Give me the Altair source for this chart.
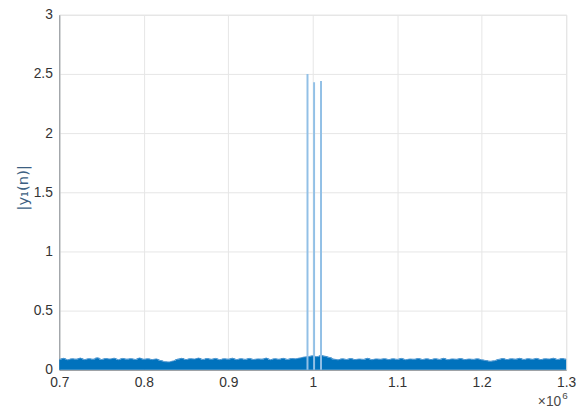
import altair as alt
import pandas as pd

# noise band upper envelope, x from 0.7e6 to 1.3e6 in steps of 5000
noise_top = [
    0.088,0.097,0.084,0.093,0.090,0.099,0.086,0.094,0.089,0.101,0.087,0.095,0.091,0.098,0.085,0.096,0.090,0.094,0.087,0.100,0.089,0.093,0.086,0.092,
    0.078,0.068,0.066,0.075,
    0.090,0.097,0.086,0.094,0.091,0.099,0.087,0.095,0.089,0.096,0.085,0.093,0.090,0.098,0.086,0.094,0.088,0.096,0.087,0.092,0.090,0.099,0.085,0.094,0.089,0.097,0.088,0.095,0.093,
    0.100,0.108,0.112,0.118,0.110,0.121,0.114,0.104,
    0.090,0.084,0.093,0.087,0.095,0.086,0.091,0.088,0.097,0.085,0.092,0.089,0.094,0.086,0.093,0.088,0.096,0.085,0.091,0.089,0.095,0.087,0.093,0.086,0.094,0.088,0.097,0.085,0.092,0.089,0.095,0.086,0.091,0.088,0.093,0.084,
    0.078,0.072,0.076,
    0.088,0.095,0.086,0.093,0.090,0.097,0.087,0.094,0.089,0.096,0.086,0.093,0.091,0.098,0.087,0.095,0.090,
]
noise_x = [700000 + 5000 * i for i in range(len(noise_top))]

spike_x = [993800, 1001600, 1009800]
spike_y = [2.50, 2.43, 2.44]

x_ticks = [700000, 800000, 900000, 1000000, 1100000, 1200000, 1300000]
y_ticks = [0, 0.5, 1, 1.5, 2, 2.5, 3]

noise_df = pd.DataFrame({"n": noise_x, "y": noise_top})
spike_df = pd.DataFrame({"n": spike_x, "y": spike_y, "base": [0.0] * len(spike_x)})

W, H = 514, 360
FONT = "Liberation Sans"

xs = alt.Scale(domain=[700000, 1300000], nice=False, zero=False)
ys = alt.Scale(domain=[0, 3], nice=False)

xaxis = alt.Axis(values=x_ticks, labelExpr="format(datum.value/1e6, '~g')", title=None,
                 grid=True, gridColor="#e6e6e6", ticks=False, labelPadding=6, labelFlush=False,
                 domainColor="#8a8f94", labelColor="#333333", labelFontSize=14, labelFont=FONT)
yaxis = alt.Axis(values=y_ticks, format="~g", title="|y₁(n)|", grid=True, gridColor="#e6e6e6",
                 ticks=False, labelPadding=7, labelFlush=False, domainColor="#8a8f94", labelColor="#333333",
                 labelFontSize=14, labelFont=FONT, titleFont="DejaVu Sans", titleFontSize=15,
                 titleFontWeight="normal", titleColor="#3d5f82", titleX=-29, titleY=H / 2 - 5)

band = alt.Chart(noise_df).mark_area(color="#0072BD", opacity=1, interpolate="step").encode(
    x=alt.X("n:Q", scale=xs, axis=xaxis),
    y=alt.Y("y:Q", scale=ys, axis=yaxis),
)

fringe = alt.Chart(noise_df).mark_line(color="#4d95cf", strokeWidth=1, interpolate="linear").encode(
    x=alt.X("n:Q", scale=xs),
    y=alt.Y("y:Q", scale=ys),
)

spikes = alt.Chart(spike_df).mark_rule(color="#92c0e6", strokeWidth=2).encode(
    x=alt.X("n:Q", scale=xs),
    y=alt.Y("base:Q", scale=ys),
    y2=alt.Y2("y:Q"),
)

exp_base = alt.Chart(pd.DataFrame({"t": ["×10"]})).mark_text(
    font=FONT, fontSize=14, color="#4a4a4a", align="right", baseline="middle"
).encode(x=alt.value(W - 5), y=alt.value(H + 33), text="t:N")

exp_sup = alt.Chart(pd.DataFrame({"t": ["6"]})).mark_text(
    font=FONT, fontSize=10, color="#4a4a4a", align="left", baseline="middle"
).encode(x=alt.value(W - 4), y=alt.value(H + 27), text="t:N")

chart = alt.layer(band, fringe, spikes, exp_base, exp_sup).properties(
    width=W, height=H,
    autosize=alt.AutoSizeParams(type="none"),
    padding={"left": 52, "top": 4, "right": 13, "bottom": 44},
).configure_view(stroke="#8a8f94", strokeWidth=1).configure(background="white")

chart.save("out.html", embed_options={"renderer": "svg", "actions": False})
